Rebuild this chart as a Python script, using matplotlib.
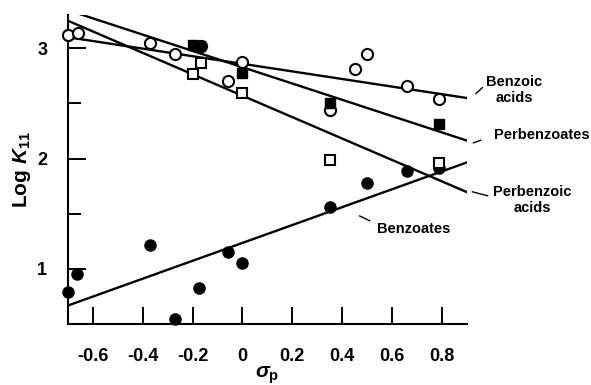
import numpy as np
import matplotlib.pyplot as plt
from matplotlib.ticker import FixedLocator, NullFormatter

plt.rcParams['font.family'] = ['Liberation Sans', 'DejaVu Sans']
plt.rcParams['font.weight'] = 'bold'
plt.rcParams['axes.labelweight'] = 'bold'
plt.rcParams['axes.unicode_minus'] = False
plt.rcParams['mathtext.fontset'] = 'custom'
plt.rcParams['mathtext.rm'] = 'Liberation Sans:bold'
plt.rcParams['mathtext.it'] = 'Liberation Sans:italic:bold'

# data
benzoic_acids_x = [-0.70, -0.66, -0.37, -0.27, -0.165, -0.06, 0.0, 0.35, 0.45, 0.50, 0.66, 0.79]
benzoic_acids_y = [3.115, 3.135, 3.045, 2.95, 3.02, 2.70, 2.873, 2.44, 2.814, 2.95, 2.66, 2.537]

perbenzoates_x = [-0.199, -0.171, 0.0, 0.35, 0.79]
perbenzoates_y = [3.03, 3.015, 2.774, 2.50, 2.31]

perbenzoic_acids_x = [-0.20, -0.168, 0.0, 0.35, 0.79]
perbenzoic_acids_y = [2.77, 2.868, 2.593, 1.985, 1.956]

benzoates_x = [-0.70, -0.665, -0.37, -0.27, -0.175, -0.06, 0.0, 0.35, 0.50, 0.66, 0.79]
benzoates_y = [0.787, 0.955, 1.218, 0.55, 0.826, 1.15, 1.05, 1.56, 1.78, 1.886, 1.91]

# fitted lines: (intercept, slope)
fit_benzoic_acids = (2.858, -0.344)
fit_perbenzoates = (2.827, -0.738)
fit_perbenzoic_acids = (2.569, -0.970)
fit_benzoates = (1.236, 0.81)

x_ticks = [-0.6, -0.4, -0.2, 0, 0.2, 0.4, 0.6, 0.8]
x_tick_labels = ['-0.6', '-0.4', '-0.2', '0', '0.2', '0.4', '0.6', '0.8']
y_ticks = [1, 2, 3]
y_minor = [1.5, 2.5]

fig = plt.figure(figsize=(5.91, 3.85), dpi=100)
ax = fig.add_axes([0.115, 0.158, 0.675, 0.803])

xs = np.array([-0.7, 0.9])
for b, m in [fit_benzoic_acids, fit_perbenzoates, fit_perbenzoic_acids, fit_benzoates]:
    ax.plot(xs, b + m * xs, color='black', lw=1.7, zorder=2)

ax.plot(benzoic_acids_x, benzoic_acids_y, 'o', ms=8, mfc='white', mec='black', mew=1.5,
        zorder=3, clip_on=False)
ax.plot(perbenzoates_x, perbenzoates_y, 's', ms=7.5, mfc='black', mec='black',
        zorder=5, clip_on=False)
ax.plot(benzoates_x, benzoates_y, 'o', ms=8, mfc='black', mec='black',
        zorder=3, clip_on=False)
ax.plot(perbenzoic_acids_x, perbenzoic_acids_y, 's', ms=7.5, mfc='white', mec='black', mew=1.5,
        zorder=4, clip_on=False)

# labels with short leader lines
ax.plot([0.936, 0.962], [2.588, 2.642], color='black', lw=1, clip_on=False)
ax.text(1.089, 2.618, 'Benzoic\nacids', ha='center', va='center', fontsize=10.5, linespacing=1.15)
ax.plot([0.926, 0.956], [2.142, 2.166], color='black', lw=1, clip_on=False)
ax.text(1.007, 2.211, 'Perbenzoates', ha='left', va='center', fontsize=10.5)
ax.plot([0.922, 0.983], [1.699, 1.663], color='black', lw=1, clip_on=False)
ax.text(1.161, 1.627, 'Perbenzoic\nacids', ha='center', va='center', fontsize=10.5, linespacing=1.15)
ax.plot([0.470, 0.510], [1.480, 1.437], color='black', lw=1, clip_on=False)
ax.text(0.54, 1.36, 'Benzoates', ha='left', va='center', fontsize=10.5)

ax.set_xlim(-0.7, 0.9)
ax.set_ylim(0.5, 3.3)
ax.spines['top'].set_visible(False)
ax.spines['right'].set_visible(False)
ax.spines['left'].set_linewidth(1.5)
ax.spines['bottom'].set_linewidth(1.5)

ax.set_xticks(x_ticks)
ax.set_xticklabels(x_tick_labels)
ax.set_yticks(y_ticks)
ax.yaxis.set_minor_locator(FixedLocator(y_minor))
ax.yaxis.set_minor_formatter(NullFormatter())
ax.tick_params(axis='x', direction='in', length=12, width=1.4, pad=17, labelsize=13)
ax.tick_params(axis='y', which='major', direction='in', length=13, width=1.4, pad=15, labelsize=13)
ax.tick_params(axis='y', which='minor', direction='in', length=9, width=1.4)

ax.set_xlabel(r'$\sigma_\mathrm{p}$', fontsize=15, labelpad=0)
ax.set_ylabel(r'Log $\mathit{K}_{\mathrm{11}}$', fontsize=15, labelpad=3)

fig.savefig('out.png', dpi=100)
